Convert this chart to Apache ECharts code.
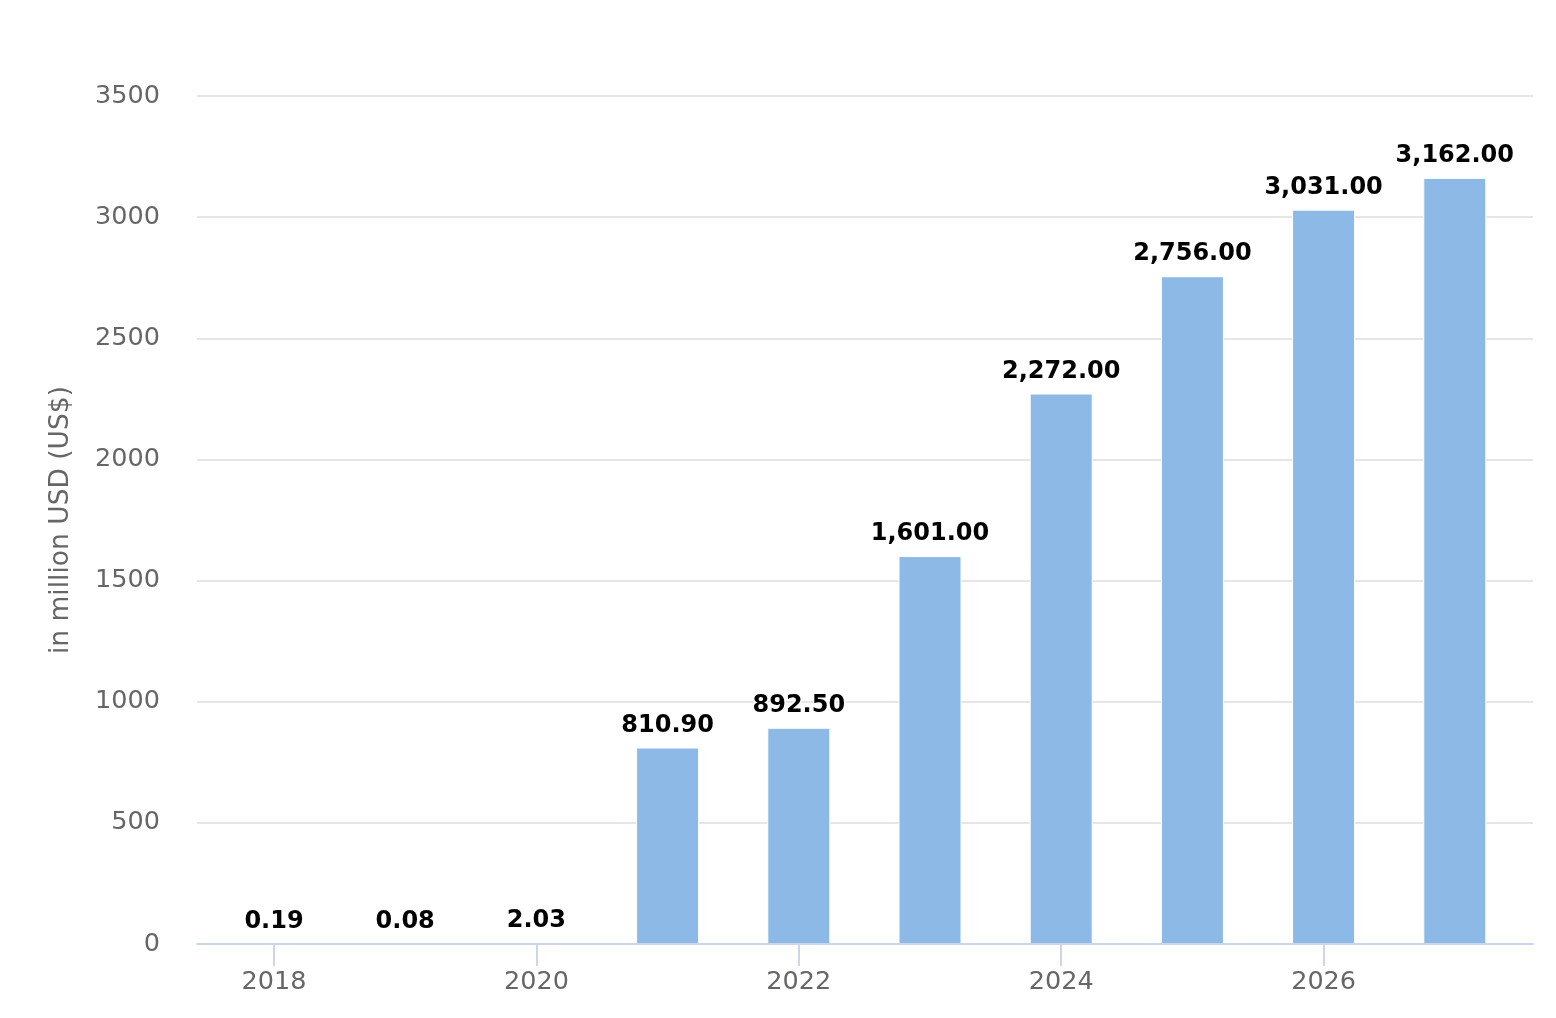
<!DOCTYPE html>
<html>
<head>
<meta charset="utf-8">
<title>Revenue chart</title>
<script src="https://cdn.jsdelivr.net/npm/echarts@6/dist/echarts.min.js"></script>
<style>
  html, body { margin: 0; padding: 0; background: #fff; }
  #main { width: 1556px; height: 1018px; }
</style>
</head>
<body>
<div id="main"></div>
<script>
// data
var years = [2018, 2019, 2020, 2021, 2022, 2023, 2024, 2025, 2026, 2027];
var values = [0.19, 0.08, 2.03, 810.9, 892.5, 1601, 2272, 2756, 3031, 3162];
var yearTicks = [2018, 2020, 2022, 2024, 2026];
var yAxisName = 'in million USD (US$)';

var chart = echarts.init(document.getElementById('main'));

var points = years.map(function (y, i) { return [y, values[i]]; });

var option = {
    backgroundColor: '#ffffff',
    animation: false,
    grid: { left: 197, right: 23, top: 96, bottom: 74 },
    xAxis: {
        type: 'value',
        min: 2017.413,
        max: 2027.596,
        z: 5,
        splitLine: { show: false },
        axisLine: { show: true, lineStyle: { color: '#ccd6eb', width: 2 } },
        axisTick: {
            show: true,
            customValues: yearTicks,
            length: 22,
            lineStyle: { color: '#ccd6eb', width: 2 }
        },
        axisLabel: {
            customValues: yearTicks,
            margin: 25,
            color: '#666666',
            fontSize: 25.5,
            fontFamily: 'DejaVu Sans',
            formatter: function (v) { return String(v); }
        }
    },
    yAxis: {
        type: 'value',
        min: 0,
        max: 3500,
        interval: 500,
        name: yAxisName,
        nameLocation: 'middle',
        nameGap: 122,
        nameRotate: 90,
        nameTextStyle: { color: '#666666', fontSize: 26.5, fontFamily: 'DejaVu Sans' },
        axisLine: { show: false },
        axisTick: { show: false },
        axisLabel: {
            margin: 37,
            color: '#666666',
            fontSize: 25.5,
            fontFamily: 'DejaVu Sans',
            padding: [5, 0, 0, 0],
            formatter: function (v) { return String(v); }
        },
        splitLine: { lineStyle: { color: '#e6e6e6', width: 2 } }
    },
    series: [{
        type: 'bar',
        data: points,
        barWidth: 63,
        itemStyle: { color: '#8cb9e5', borderColor: '#ffffff', borderWidth: 1 },
        label: {
            show: true,
            position: 'top',
            distance: 10,
            color: '#000000',
            fontSize: 24,
            fontWeight: 'bold',
            fontFamily: 'DejaVu Sans',
            textBorderColor: '#ffffff',
            textBorderWidth: 3,
            formatter: function (p) {
                var v = p.value[1];
                if (v < 100) return v.toFixed(2);
                return v.toLocaleString('en-US', { minimumFractionDigits: 2, maximumFractionDigits: 2 });
            }
        }
    }]
};

chart.setOption(option);
</script>
</body>
</html>
